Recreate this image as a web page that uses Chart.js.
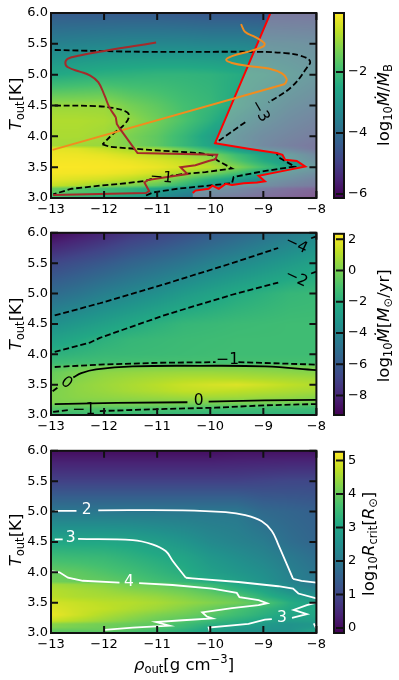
<!DOCTYPE html>
<html>
<head>
<meta charset="utf-8">
<title>Accretion maps</title>
<script src="https://cdn.jsdelivr.net/npm/chart.js@4"></script>
<style>
    html, body { margin: 0; padding: 0; background: #fff; }
    #page { position: relative; width: 399px; height: 680px; overflow: hidden; filter: blur(0.4px); }
    canvas { position: absolute; }
</style>
</head>
<body>
<div id="page">
    <canvas id="map1" width="330" height="222" style="left:0;top:0"></canvas>
    <canvas id="bar1" width="69" height="222" style="left:330px;top:0"></canvas>
    <canvas id="map2" width="330" height="218" style="left:0;top:222px"></canvas>
    <canvas id="bar2" width="69" height="218" style="left:330px;top:222px"></canvas>
    <canvas id="map3" width="330" height="240" style="left:0;top:440px"></canvas>
    <canvas id="bar3" width="69" height="240" style="left:330px;top:440px"></canvas>
</div>
<script>
const FONT = '"DejaVu Sans"';

// Grid the three maps are sampled on
const rhoGrid = [-13, -12.5, -12, -11.5, -11, -10.5, -10, -9.5, -9, -8.5, -8];
const tempGrid = [3, 3.05, 3.1, 3.15, 3.2, 3.3, 3.4, 3.5, 3.6, 3.7, 3.8, 3.85, 4, 4.25, 4.5, 5, 5.5, 6];

// Values, one row per tempGrid entry
const ratioMap = [
    [-1.9, -2.1, -2.4, -2.8, -3.2, -3.7, -4.2, -4.6, -5, -5.3, -5.6],
    [-1.8, -2, -2.2, -2.5, -3, -3.5, -3.9, -4.3, -4.8, -5.1, -5.4],
    [-1.5, -1.7, -1.9, -2.2, -2.8, -3.3, -3.6, -4, -4.6, -5, -5.3],
    [-1.5, -1.7, -1.95, -2.2, -2.6, -3.1, -3.5, -3.9, -4.5, -4.9, -5.2],
    [-0.6, -0.8, -1.05, -1.3, -1.6, -2.2, -2.8, -3.3, -3.7, -4.2, -4.5],
    [-0.3, -0.4, -0.5, -0.7, -1, -1.6, -2.3, -2.8, -3.3, -3.7, -4.2],
    [-0.15, -0.17, -0.2, -0.3, -0.5, -0.9, -1.3, -1.9, -2.7, -3.2, -3.7],
    [-0.1, -0.1, -0.12, -0.15, -0.25, -0.45, -0.7, -1.2, -1.9, -2.6, -3.2],
    [-0.15, -0.15, -0.17, -0.25, -0.4, -0.6, -1, -1.7, -2.4, -2.9, -3.6],
    [-0.2, -0.22, -0.3, -0.5, -0.7, -1, -1.2, -2, -2.6, -3.1, -3.9],
    [-0.3, -0.35, -0.6, -0.9, -0.95, -1.5, -2.2, -2.9, -3.5, -4, -4.6],
    [-0.9, -0.95, -1, -1.25, -1.6, -2.1, -2.6, -3.3, -3.9, -4.3, -4.6],
    [-0.85, -0.85, -0.95, -1.3, -1.6, -2.1, -2.7, -3.3, -3.8, -4.1, -4.4],
    [-0.8, -0.8, -0.85, -1.05, -1.4, -1.8, -2.3, -2.9, -3.4, -3.8, -4.1],
    [-1, -1, -1, -1.35, -1.6, -1.9, -2.1, -2.5, -3.05, -3.5, -3.8],
    [-2.5, -2.4, -2.3, -2.25, -2.2, -2.2, -2.25, -2.4, -2.6, -2.9, -3.25],
    [-3.5, -3.45, -3.4, -3.35, -3.35, -3.35, -3.4, -3.4, -3.45, -3.5, -3.6],
    [-4.4, -4.4, -4.4, -4.4, -4.4, -4.45, -4.5, -4.5, -4.55, -4.6, -4.6],
];
const mdotMap = [
    [-1.3, -1.4, -1.45, -1.5, -1.55, -1.6, -1.65, -1.7, -1.75, -1.8, -1.8],
    [-1.05, -1.1, -1.15, -1.25, -1.3, -1.4, -1.45, -1.5, -1.55, -1.6, -1.6],
    [-0.8, -0.85, -0.9, -0.95, -1, -1.05, -1.1, -1.2, -1.3, -1.35, -1.4],
    [-0.45, -0.4, -0.35, -0.35, -0.4, -0.5, -0.6, -0.7, -0.8, -0.9, -1],
    [0.1, 0.1, 0.1, 0.1, 0.08, 0.05, 0, -0.05, -0.1, -0.15, -0.2],
    [0.1, 0.3, 0.4, 0.5, 0.6, 0.7, 0.75, 0.7, 0.6, 0.5, 0.3],
    [0.05, 0.35, 0.55, 0.8, 1, 1.25, 1.3, 1.2, 1.05, 0.9, 0.75],
    [-0.05, 0.35, 0.6, 0.85, 1.1, 1.4, 1.6, 1.75, 1.5, 1.2, 1],
    [-0.3, 0.2, 0.5, 0.7, 0.85, 1, 1.05, 1, 0.9, 0.8, 0.7],
    [-0.4, 0.05, 0.35, 0.45, 0.55, 0.6, 0.6, 0.55, 0.45, 0.35, 0.25],
    [-0.9, -0.4, -0.1, 0, 0.02, 0.05, 0.05, 0.05, 0, -0.05, -0.15],
    [-1.3, -1.2, -1.15, -1.1, -1.1, -1.1, -1.1, -1.1, -1.1, -1.1, -1.1],
    [-1.9, -1.7, -1.5, -1.45, -1.4, -1.35, -1.3, -1.3, -1.3, -1.3, -1.3],
    [-2.7, -2.3, -1.9, -1.6, -1.5, -1.4, -1.35, -1.3, -1.3, -1.3, -1.3],
    [-3.5, -3.1, -2.7, -2.3, -1.9, -1.6, -1.5, -1.4, -1.35, -1.3, -1.3],
    [-5.2, -4.8, -4.3, -3.9, -3.5, -3, -2.6, -2.2, -1.9, -1.6, -1.5],
    [-6.8, -6.4, -6, -5.5, -5.1, -4.7, -4.2, -3.8, -3.4, -3, -2.6],
    [-9, -8.5, -8, -7.4, -7, -6.5, -6, -5.5, -5, -4.5, -4],
];
const rcritMap = [
    [3.9, 3.8, 3.7, 3.6, 3.4, 3.2, 2.9, 2.7, 2.55, 2.5, 2.7],
    [3.95, 3.95, 4, 3.8, 3.6, 3.3, 3, 2.7, 2.6, 2.6, 3],
    [4.25, 4.15, 4.05, 3.95, 3.8, 3.5, 3.1, 2.85, 2.7, 2.6, 2.75],
    [4.3, 4.2, 4.1, 4, 3.9, 3.6, 3.3, 3.1, 2.8, 2.6, 2.7],
    [4.8, 4.6, 4.4, 4.2, 4, 3.8, 3.5, 3.25, 3, 2.8, 2.85],
    [5.1, 4.85, 4.6, 4.4, 4.2, 4.05, 3.85, 3.55, 3.25, 3, 3.05],
    [5, 4.85, 4.75, 4.6, 4.45, 4.25, 4, 3.7, 3.4, 3.1, 3.1],
    [4.9, 4.8, 4.7, 4.65, 4.55, 4.4, 4.25, 4.1, 3.8, 3.2, 2.9],
    [4.7, 4.6, 4.55, 4.5, 4.4, 4.25, 4.05, 3.85, 3.3, 2.9, 2.6],
    [4.65, 4.55, 4.45, 4.3, 4.2, 4.05, 3.8, 3.4, 3.05, 2.55, 2.3],
    [4.5, 4.4, 4.3, 4.1, 4, 3.75, 3.5, 3.1, 2.75, 2.35, 2],
    [4.1, 4, 3.95, 3.8, 3.6, 3.4, 3.15, 2.9, 2.6, 2.25, 2],
    [3.98, 3.9, 3.75, 3.6, 3.4, 3.2, 2.9, 2.7, 2.5, 2.2, 1.95],
    [3.55, 3.5, 3.45, 3.3, 3.15, 3, 2.7, 2.5, 2.3, 2.05, 1.8],
    [3.05, 3.05, 3.05, 3, 2.85, 2.65, 2.4, 2.25, 2.1, 1.8, 1.6],
    [2, 2, 2, 2, 2, 2, 2, 2, 1.7, 1.6, 1.5],
    [0.9, 0.9, 0.9, 0.9, 0.9, 0.9, 0.9, 0.9, 0.95, 1, 1],
    [0.05, 0.05, 0.05, 0.05, 0.05, 0.05, 0.05, 0.1, 0.1, 0.1, 0.1],
];

// Panel 1 lines
const redLine = [[-10.33,3.08],[-10.28,3.12],[-10.03,3.15],[-9.96,3.2],[-9.84,3.15],[-9.71,3.23],[-9.59,3.21],[-9.37,3.24],[-9.12,3.25],[-8.97,3.27],[-9.09,3.36],[-8.62,3.44],[-8.21,3.51],[-8.37,3.6],[-8.59,3.62],[-8.64,3.7],[-8.75,3.73],[-9.28,3.8],[-9.91,3.89],[-8.87,5.99]];
const orangeStraight = [[-12.97,3.78],[-8.59,4.85]];
const orangeCurl = [[-8.59,4.85],[-8.56,4.93],[-8.65,5.02],[-8.9,5.1],[-9.28,5.14],[-9.59,5.19],[-9.7,5.24],[-9.59,5.3],[-9.22,5.39],[-9,5.46],[-8.98,5.51],[-9.15,5.61],[-9.34,5.69],[-9.42,5.82]];
const brownUpper = [[-11.02,5.52],[-11.46,5.46],[-12.02,5.38],[-12.46,5.31],[-12.68,5.26],[-12.73,5.19],[-12.68,5.12],[-12.46,5.05],[-12.27,4.99],[-12.11,4.88],[-11.99,4.66],[-11.9,4.47],[-11.78,4.31]];
const brownLower = [[-11.78,4.31],[-11.76,4.2],[-11.7,4.12],[-11.37,3.73],[-9.87,3.7],[-9.9,3.63],[-10.03,3.6],[-10.28,3.53],[-10.56,3.5],[-10.43,3.39],[-10.81,3.34],[-11.18,3.29],[-11.24,3.25],[-11.15,3.11],[-11.21,3.08],[-12.08,3.065],[-12.96,3.05]];
const ratioMinus3A = [[-12.93,5.4],[-11.15,5.37],[-9.09,5.37],[-8.59,5.35],[-8.31,5.31],[-8.12,5.22],[-8.19,5.1],[-8.47,4.8],[-8.9,4.55]];
const ratioMinus3B = [[-9.34,4.23],[-9.9,3.89]];
const ratioMinus1A = [[-12.93,4.5],[-12.15,4.49],[-11.83,4.46],[-11.61,4.41],[-11.53,4.34],[-11.61,4.2],[-11.83,4.04],[-12.03,3.87]];
const ratioMinus1D = [[-12.03,3.87],[-11.89,3.83],[-11.15,3.78],[-10.21,3.73],[-9.96,3.69],[-9.87,3.61],[-9.59,3.48],[-10.09,3.42],[-10.49,3.39],[-10.75,3.36]];
const ratioMinus1B = [[-11.1,3.31],[-11.21,3.28],[-11.58,3.24],[-12.08,3.2],[-12.61,3.15],[-12.96,3.06]];
const ratioMinus1C = [[-11.21,3.04],[-11.08,3.09],[-10.62,3.15],[-9.59,3.24],[-9.56,3.34],[-9.03,3.43],[-8.41,3.51],[-8.59,3.6],[-8.71,3.66],[-8.75,3.73]];
const overlayCorners = [[-8,6],[-8,3],[-10.33,3]];

// Panel 2 lines
const mdotMinus4A = [[-12.93,4.64],[-12.08,4.84],[-10.84,5.16],[-9.59,5.5],[-8.72,5.75]];
const mdotMinus4B = [[-8.1,5.91],[-8,5.94]];
const mdotMinus2A = [[-12.93,4.04],[-12.27,4.19],[-12.08,4.27],[-10.84,4.65],[-9.59,4.98],[-8.72,5.18]];
const mdotMinus2B = [[-8.1,5.33],[-8,5.36]];
const mdotMinus1A = [[-12.93,3.79],[-12.08,3.83],[-10.96,3.86],[-9.9,3.87]];
const mdotMinus1B = [[-9.47,3.87],[-8,3.83]];
const mdotMinus1C = [[-12.96,3.05],[-12.68,3.08]];
const mdotMinus1D = [[-12.08,3.065],[-10.84,3.1],[-9.9,3.12],[-8.97,3.16],[-8,3.18]];
const mdotZeroDash = [[-12.97,3.39],[-12.85,3.47]];
const mdotZeroA = [[-12.58,3.62],[-12.43,3.69],[-12.15,3.75],[-11.46,3.8],[-10.21,3.81],[-8.97,3.8],[-8,3.74]];
const mdotZeroB = [[-12.93,3.18],[-11.77,3.2],[-10.43,3.21]];
const mdotZeroC = [[-10.03,3.22],[-8.97,3.24],[-8,3.25]];

// Panel 3 lines
const rcrit2A = [[-12.93,5.01],[-12.52,5.01]];
const rcrit2B = [[-12.11,5.02],[-10.52,5.02],[-9.71,4.99],[-9.34,4.94],[-9.03,4.84],[-8.84,4.68],[-8.72,4.46],[-8.44,3.89]];
const rcrit2C = [[-8.44,3.89],[-8.28,3.86],[-8,3.83]];
const rcrit3A = [[-12.93,4.54],[-12.78,4.54]];
const rcrit3B = [[-12.49,4.55],[-11.46,4.53],[-11.09,4.46],[-10.84,4.35],[-10.71,4.19],[-10.46,3.91]];
const rcrit3F = [[-10.46,3.91],[-10.34,3.9],[-9.47,3.84],[-8.72,3.77],[-8.44,3.73],[-8.34,3.65],[-8,3.57]];
const rcrit4A = [[-13,4.02],[-12.84,4],[-12.68,3.91],[-12.4,3.86],[-11.71,3.83]];
const rcrit4B = [[-11.34,3.82],[-10.71,3.79],[-9.96,3.73],[-9.5,3.66],[-9.45,3.59],[-9.09,3.54],[-8.93,3.49],[-9.09,3.46],[-9.59,3.41],[-10.15,3.34],[-10.06,3.27],[-9.96,3.24],[-10.52,3.21],[-11.02,3.18],[-10.77,3.12],[-11.46,3.09],[-11.99,3.05]];
const rcrit3C = [[-10.01,3.03],[-10.03,3.09],[-9.28,3.15],[-8.97,3.22],[-8.84,3.23]];
const rcrit3D = [[-8.46,3.25],[-8.18,3.31],[-8.43,3.38],[-8.18,3.46],[-8,3.5]];
const rcrit3E = [[-8.05,3.16],[-8,3.07]];

// Contour labels: [text, rho, T, rotation in degrees]
const ratioLabels = [['\u22123', -9.07, 4.41, 60], ['\u22121', -10.92, 3.33, 5]];
const mdotLabels = [['\u22124', -8.38, 5.8, 25], ['\u22122', -8.38, 5.25, 25], ['\u22121', -9.67, 3.9, 0], ['0', -12.71, 3.53, 40], ['0', -10.22, 3.23, 0], ['\u22121', -12.38, 3.09, 0]];
const rcritLabels = [['2', -12.33, 5.03, 0], ['3', -12.63, 4.57, 0], ['4', -11.53, 3.84, 0], ['3', -8.65, 3.24, 0]];

const rhoTicks = [-13, -12, -11, -10, -9, -8];
const tempTicks = [3, 3.5, 4, 4.5, 5, 5.5, 6];
const ratioBarTicks = [-6, -4, -2];
const mdotBarTicks = [-8, -6, -4, -2, 0, 2];
const rcritBarTicks = [0, 1, 2, 3, 4, 5];

// Pieces of the mathtext labels
const tempTitle = [{ t: 'T', i: true }, { t: 'out', sub: true }, { t: '[K]' }];
const rhoTitle = [{ t: '\u03c1', i: true }, { t: 'out', sub: true }, { t: '[g cm' }, { t: '\u22123', sup: true }, { t: ']' }];
const ratioTitle = [{ t: 'log' }, { t: '10', sub: true }, { t: '\u1e40', i: true }, { t: '/' }, { t: '\u1e40', i: true }, { t: 'B', sub: true }];
const mdotTitle = [{ t: 'log' }, { t: '10', sub: true }, { t: '\u1e40', i: true }, { t: '[' }, { t: 'M', i: true }, { t: '\u2299', sub: true }, { t: '/yr]' }];
const rcritTitle = [{ t: 'log' }, { t: '10', sub: true }, { t: 'R', i: true }, { t: 'crit', sub: true }, { t: '[' }, { t: 'R', i: true }, { t: '\u2299', sub: true }, { t: ']' }];

const viridis = [[68,1,84],[72,36,117],[65,68,135],[53,95,141],[42,120,142],[33,145,140],[34,168,132],[68,191,112],[122,209,81],[189,223,38],[253,231,37]];

function viridisAt(f) {
    const p = Math.min(Math.max(f, 0), 1) * (viridis.length - 1);
    const i = Math.min(Math.floor(p), viridis.length - 2);
    const k = p - i;
    return viridis[i].map((c, n) => c + (viridis[i + 1][n] - c) * k);
}

function cellIndex(grid, v) {
    let i = 0;
    while (i < grid.length - 2 && v > grid[i + 1]) i++;
    return i;
}

// Paints the map through the chart's own scales
const heatPlugin = {
    id: 'heat',
    beforeDatasetsDraw(chart, args, opts) {
        const { ctx, chartArea: a, scales: { x, y } } = chart;
        const w = Math.round(a.right - a.left), h = Math.round(a.bottom - a.top);
        const img = ctx.createImageData(w, h);
        for (let py = 0; py < h; py++) {
            const T = y.getValueForPixel(a.top + py + 0.5);
            const r = cellIndex(tempGrid, T);
            const tk = (T - tempGrid[r]) / (tempGrid[r + 1] - tempGrid[r]);
            for (let px = 0; px < w; px++) {
                const rho = x.getValueForPixel(a.left + px + 0.5);
                const c = cellIndex(rhoGrid, rho);
                const xk = (rho - rhoGrid[c]) / (rhoGrid[c + 1] - rhoGrid[c]);
                const low = opts.rows[r][c] * (1 - xk) + opts.rows[r][c + 1] * xk;
                const high = opts.rows[r + 1][c] * (1 - xk) + opts.rows[r + 1][c + 1] * xk;
                const rgb = viridisAt(((low * (1 - tk) + high * tk) - opts.min) / (opts.max - opts.min));
                const o = (py * w + px) * 4;
                img.data[o] = rgb[0]; img.data[o + 1] = rgb[1]; img.data[o + 2] = rgb[2]; img.data[o + 3] = 255;
            }
        }
        ctx.putImageData(img, Math.round(a.left), Math.round(a.top));
    },
};

// Inward ticks, frame and contour labels
const framePlugin = {
    id: 'frame',
    afterDatasetsDraw(chart, args, opts) {
        const { ctx, scales: { x, y } } = chart;
        ctx.save();
        ctx.textAlign = 'center';
        ctx.textBaseline = 'middle';
        ctx.font = '15.5px ' + FONT;
        ctx.fillStyle = opts.labelColor;
        (opts.labels || []).forEach(([text, rho, T, rot]) => {
            ctx.save();
            ctx.translate(x.getPixelForValue(rho), y.getPixelForValue(T));
            ctx.rotate(rot * Math.PI / 180);
            ctx.fillText(text, 0, 0);
            ctx.restore();
        });
        ctx.restore();
    },
    afterDraw(chart) {
        const { ctx, chartArea: a, scales: { x, y } } = chart;
        ctx.save();
        ctx.strokeStyle = '#111';
        ctx.lineWidth = 2;
        ctx.beginPath();
        rhoTicks.forEach(v => {
            const p = x.getPixelForValue(v);
            ctx.moveTo(p, a.bottom); ctx.lineTo(p, a.bottom - 7);
            ctx.moveTo(p, a.top); ctx.lineTo(p, a.top + 7);
        });
        tempTicks.forEach(v => {
            const p = y.getPixelForValue(v);
            ctx.moveTo(a.left, p); ctx.lineTo(a.left + 7, p);
            ctx.moveTo(a.right, p); ctx.lineTo(a.right - 7, p);
        });
        ctx.stroke();
        ctx.strokeRect(a.left, a.top, a.right - a.left, a.bottom - a.top);
        ctx.restore();
    },
};

function drawMath(ctx, parts, cx, cy, rot, size) {
    const fontOf = p => (p.i ? 'italic ' : '') + ((p.sub || p.sup) ? size * 0.7 : size) + 'px ' + FONT;
    let total = 0;
    parts.forEach(p => { ctx.font = fontOf(p); total += ctx.measureText(p.t).width; });
    ctx.save();
    ctx.translate(cx, cy);
    ctx.rotate(rot);
    ctx.fillStyle = '#000';
    ctx.textBaseline = 'alphabetic';
    ctx.textAlign = 'left';
    let pos = -total / 2;
    parts.forEach(p => {
        ctx.font = fontOf(p);
        const shift = p.sub ? size * 0.2 : p.sup ? -size * 0.42 : 0;
        ctx.fillText(p.t, pos, size * 0.36 + shift);
        pos += ctx.measureText(p.t).width;
    });
    ctx.restore();
}

const titlePlugin = {
    id: 'titles',
    afterDraw(chart, args, opts) {
        (opts.items || []).forEach(it => drawMath(chart.ctx, it.parts, it.x, it.y, it.rot, it.size));
    },
};

function pts(line) {
    return line.map(p => ({ x: p[0], y: p[1] }));
}

function lineSet(line, color, dashed, smooth) {
    return {
        data: pts(line),
        showLine: true,
        borderColor: color,
        borderWidth: color === '#000' || color === '#fff' ? 1.8 : 2,
        borderDash: dashed ? [6, 2.8] : [],
        pointRadius: 0,
        tension: smooth ? 0.4 : 0,
        fill: false,
    };
}

function makeMap(id, rows, min, max, top, height, datasets, labels, labelColor, titles) {
    new Chart(document.getElementById(id).getContext('2d'), {
        type: 'scatter',
        data: { datasets: datasets },
        options: {
            responsive: false,
            animation: false,
            devicePixelRatio: 1,
            layout: { padding: { top: top, right: 12, bottom: 0, left: 0 } },
            plugins: {
                legend: { display: false },
                tooltip: { enabled: false },
                heat: { rows: rows, min: min, max: max },
                frame: { labels: labels, labelColor: labelColor },
                titles: { items: titles },
            },
            scales: {
                x: {
                    type: 'linear', min: -13, max: -8,
                    grid: { display: false, drawTicks: false },
                    border: { display: false },
                    afterFit: s => { s.height = height - top - 185; },
                    afterBuildTicks: s => { s.ticks = rhoTicks.map(v => ({ value: v })); },
                    ticks: {
                        autoSkip: false, maxRotation: 0, padding: 4, color: '#000',
                        font: { family: 'DejaVu Sans', size: 13 },
                        callback: v => String(v).replace('-', '\u2212'),
                    },
                },
                y: {
                    type: 'linear', min: 3, max: 6,
                    grid: { display: false, drawTicks: false },
                    border: { display: false },
                    afterFit: s => { s.width = 51; },
                    afterBuildTicks: s => { s.ticks = tempTicks.map(v => ({ value: v })); },
                    ticks: {
                        autoSkip: false, padding: 3, color: '#000',
                        font: { family: 'DejaVu Sans', size: 13 },
                        callback: v => v.toFixed(1),
                    },
                },
            },
        },
        plugins: [heatPlugin, framePlugin, titlePlugin],
    });
}

function makeBar(id, min, max, top, height, tickValues, title, titleX) {
    new Chart(document.getElementById(id).getContext('2d'), {
        type: 'bar',
        data: {
            labels: [''],
            datasets: [{
                data: [[min, max]],
                barPercentage: 1,
                categoryPercentage: 1,
                backgroundColor: c => {
                    const a = c.chart.chartArea;
                    if (!a) return '#000';
                    const g = c.chart.ctx.createLinearGradient(0, a.bottom, 0, a.top);
                    viridis.forEach((rgb, i) => g.addColorStop(i / (viridis.length - 1), 'rgb(' + rgb.join(',') + ')'));
                    return g;
                },
            }],
        },
        options: {
            responsive: false,
            animation: false,
            devicePixelRatio: 1,
            layout: { padding: { top: top, right: 0, bottom: height - top - 185, left: 4 } },
            plugins: { legend: { display: false }, tooltip: { enabled: false } },
            scales: {
                x: { display: false },
                y: {
                    position: 'right', min: min, max: max,
                    grid: { display: false, drawTicks: false },
                    border: { display: false },
                    afterFit: s => { s.width = 55; },
                    afterBuildTicks: s => { s.ticks = tickValues.map(v => ({ value: v })); },
                    ticks: {
                        autoSkip: false, padding: 4, color: '#000',
                        font: { family: 'DejaVu Sans', size: 13 },
                        callback: v => String(v).replace('-', '\u2212'),
                    },
                },
            },
        },
        plugins: [{
            id: 'barFrame',
            afterDraw(chart) {
                const { ctx, chartArea: a, scales: { y } } = chart;
                ctx.save();
                ctx.strokeStyle = '#111';
                ctx.lineWidth = 2;
                ctx.beginPath();
                tickValues.forEach(v => {
                    const p = y.getPixelForValue(v);
                    ctx.moveTo(a.right, p); ctx.lineTo(a.right - 8, p);
                });
                ctx.stroke();
                ctx.strokeRect(a.left, a.top, a.right - a.left, a.bottom - a.top);
                ctx.restore();
                drawMath(ctx, title, titleX, a.top + 92, -Math.PI / 2, 16.5);
            },
        }],
    });
}

const overlayShape = redLine.concat(overlayCorners);

makeMap('map1', ratioMap, -6.13, -0.07, 13, 222, [
    lineSet(brownUpper, '#a52a2a', false, true),
    lineSet(brownLower, '#a52a2a'),
    lineSet(orangeStraight, '#f28c1e'),
    lineSet(orangeCurl, '#f28c1e', false, true),
    lineSet(redLine, '#ff0000'),
    lineSet(ratioMinus3A, '#000', true, true),
    lineSet(ratioMinus3B, '#000', true),
    lineSet(ratioMinus1A, '#000', true, true),
    lineSet(ratioMinus1D, '#000', true),
    lineSet(ratioMinus1B, '#000', true),
    lineSet(ratioMinus1C, '#000', true),
    { data: pts(overlayShape), showLine: true, borderWidth: 0, pointRadius: 0, fill: 'shape', backgroundColor: 'rgba(220,180,190,0.4)' },
], ratioLabels, '#000', [{ parts: tempTitle, x: 15, y: 104, rot: -Math.PI / 2, size: 16.5 }]);

makeMap('map2', mdotMap, -9.25, 2.35, 8, 218, [
    lineSet(mdotMinus4A, '#000', true),
    lineSet(mdotMinus4B, '#000', true),
    lineSet(mdotMinus2A, '#000', true),
    lineSet(mdotMinus2B, '#000', true),
    lineSet(mdotMinus1A, '#000', true),
    lineSet(mdotMinus1B, '#000', true),
    lineSet(mdotMinus1C, '#000', true),
    lineSet(mdotMinus1D, '#000', true),
    lineSet(mdotZeroDash, '#000', true),
    lineSet(mdotZeroA, '#000', false, true),
    lineSet(mdotZeroB, '#000'),
    lineSet(mdotZeroC, '#000'),
], mdotLabels, '#000', [{ parts: tempTitle, x: 15, y: 102, rot: -Math.PI / 2, size: 16.5 }]);

makeMap('map3', rcritMap, -0.15, 5.26, 8, 240, [
    lineSet(rcrit2A, '#fff'),
    lineSet(rcrit2B, '#fff', false, true),
    lineSet(rcrit2C, '#fff'),
    lineSet(rcrit3A, '#fff'),
    lineSet(rcrit3B, '#fff', false, true),
    lineSet(rcrit3F, '#fff'),
    lineSet(rcrit3C, '#fff'),
    lineSet(rcrit3D, '#fff'),
    lineSet(rcrit3E, '#fff'),
    lineSet(rcrit4A, '#fff'),
    lineSet(rcrit4B, '#fff'),
], rcritLabels, '#fff', [
    { parts: tempTitle, x: 15, y: 100, rot: -Math.PI / 2, size: 16.5 },
    { parts: rhoTitle, x: 184, y: 224, rot: 0, size: 16.5 },
]);

makeBar('bar1', -6.13, -0.07, 13, 222, ratioBarTicks, ratioTitle, 53);
makeBar('bar2', -9.25, 2.35, 8, 218, mdotBarTicks, mdotTitle, 53);
makeBar('bar3', -0.15, 5.26, 8, 240, rcritBarTicks, rcritTitle, 38);
</script>
</body>
</html>
